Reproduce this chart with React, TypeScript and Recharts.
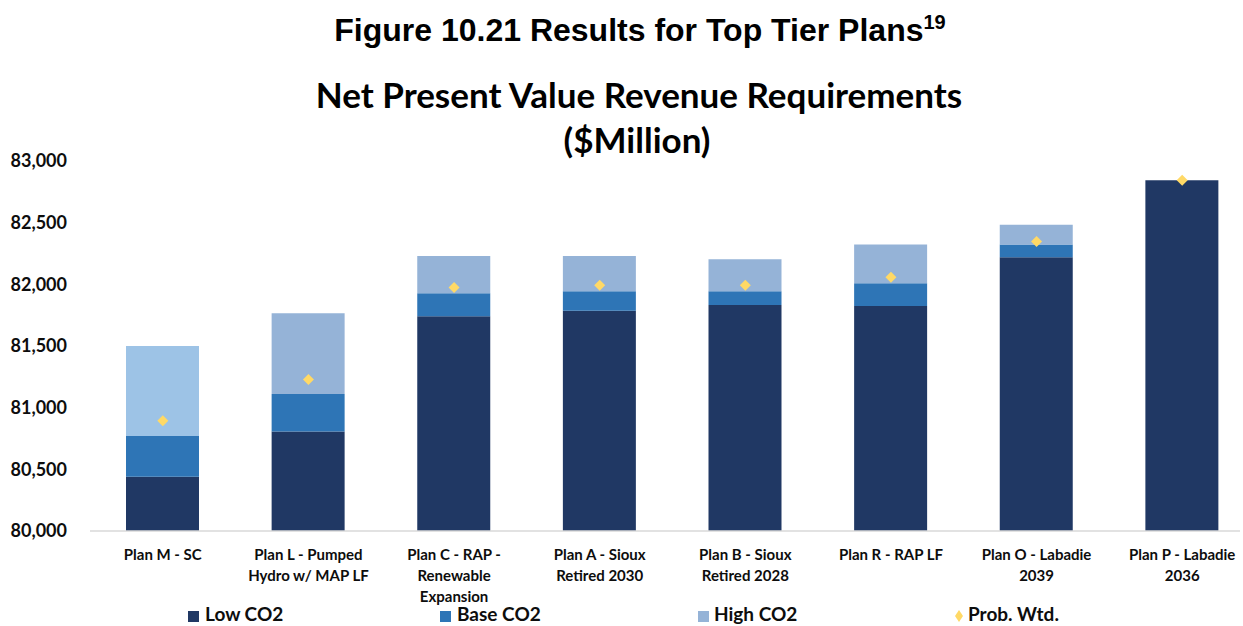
import React from 'react';
import { ComposedChart, Bar, Line, Cell, XAxis, YAxis } from 'recharts';

// plan names (\n = line break under the axis)
const PLANS = [
  'Plan M - SC',
  'Plan L - Pumped\nHydro w/ MAP LF',
  'Plan C - RAP -\nRenewable\nExpansion',
  'Plan A - Sioux\nRetired 2030',
  'Plan B - Sioux\nRetired 2028',
  'Plan R - RAP LF',
  'Plan O - Labadie\n2039',
  'Plan P - Labadie\n2036',
];

// NPVRR ($Million) per CO2 scenario
const LOW_CO2 = [80440, 80807, 81742, 81785, 81833, 81825, 82219, 82843];
const BASE_CO2 = [80770, 81110, 81928, 81944, 81944, 82009, 82322, 82843];
const HIGH_CO2 = [81500, 81766, 82230, 82230, 82203, 82322, 82484, 82843];
const PROB_WTD = [80893, 81229, 81974, 81993, 81993, 82057, 82347, 82843];

const Y_TICKS = [80000, 80500, 81000, 81500, 82000, 82500, 83000];

const LOW_COLOR = '#203864';
const BASE_COLOR = '#2E75B6';
const HIGH_COLORS = ['#9DC3E6', '#95B3D7', '#95B3D7', '#95B3D7', '#95B3D7', '#95B3D7', '#95B3D7', '#95B3D7'];
const DIAMOND_COLOR = '#FFD966';
const FONT = 'Lato, "Noto Sans", sans-serif';

// stacked segments are the steps between scenarios
const data = PLANS.map((plan, i) => ({
  plan,
  low: LOW_CO2[i],
  baseStep: BASE_CO2[i] - LOW_CO2[i],
  highStep: HIGH_CO2[i] - BASE_CO2[i],
  prob: PROB_WTD[i],
}));

const PlanTick = (props: any) => {
  const { x, y, payload } = props;
  const lines = String(payload.value).split('\n');
  return (
    <g>
      {lines.map((line, i) => (
        <text
          key={i}
          x={x}
          y={y + 29 + i * 21}
          textAnchor="middle"
          fontFamily={FONT}
          fontWeight={700}
          fontSize={15}
          fill="#0D0D0D"
        >
          {line}
        </text>
      ))}
    </g>
  );
};

const Diamond = (props: any) => {
  const { cx, cy, index } = props;
  if (cx == null || cy == null) return <g key={`d-${index}`} />;
  const r = 5.5;
  return (
    <polygon
      key={`d-${index}`}
      points={`${cx},${cy - r} ${cx + r},${cy} ${cx},${cy + r} ${cx - r},${cy}`}
      fill={DIAMOND_COLOR}
    />
  );
};

const App: React.FC = () => {
  return (
    <div style={{ position: 'absolute', left: 0, top: 0, width: 1243, height: 626, background: '#fff' }}>
      <ComposedChart
        width={1243}
        height={626}
        data={data}
        margin={{ top: 161, right: 3, bottom: 0, left: 0 }}
        barCategoryGap={0}
      >
        <XAxis
          dataKey="plan"
          height={95}
          interval={0}
          tickLine={false}
          tickSize={0}
          tickMargin={0}
          axisLine={{ stroke: '#D9D9D9', strokeWidth: 1.5 }}
          padding={{ left: 0, right: -15 }}
          tick={<PlanTick />}
        />
        <YAxis
          width={90}
          domain={[80000, 83000]}
          ticks={Y_TICKS}
          allowDataOverflow
          axisLine={false}
          tickLine={false}
          tickSize={0}
          tickMargin={23}
          tickFormatter={(v: number) => v.toLocaleString('en-US')}
          tick={{ fontFamily: FONT, fontWeight: 700, fontSize: 18, fill: '#0D0D0D' }}
        />
        <Bar dataKey="low" stackId="npv" fill={LOW_COLOR} barSize={73} isAnimationActive={false} />
        <Bar dataKey="baseStep" stackId="npv" fill={BASE_COLOR} barSize={73} isAnimationActive={false} />
        <Bar dataKey="highStep" stackId="npv" barSize={73} isAnimationActive={false}>
          {data.map((_, i) => (
            <Cell key={`h-${i}`} fill={HIGH_COLORS[i]} />
          ))}
        </Bar>
        <Line
          dataKey="prob"
          stroke="none"
          dot={Diamond}
          activeDot={false}
          isAnimationActive={false}
        />
      </ComposedChart>

      {/* titles and legend */}
      <svg
        width={1243}
        height={626}
        style={{ position: 'absolute', left: 0, top: 0, pointerEvents: 'none' }}
      >
        <text
          x={640}
          y={41}
          textAnchor="middle"
          fontFamily='"Liberation Sans", Arial, sans-serif'
          fontWeight={700}
          fontSize={32}
          fill="#000"
        >
          Figure 10.21 Results for Top Tier Plans
          <tspan fontSize={20} dy={-12}>19</tspan>
        </text>
        <text x={639} y={108} textAnchor="middle" fontFamily={FONT} fontWeight={700} fontSize={35} fill="#000">
          Net Present Value Revenue Requirements
        </text>
        <text x={637} y={153} textAnchor="middle" fontFamily={FONT} fontWeight={700} fontSize={35} fill="#000">
          ($Million)
        </text>

        <rect x={188} y={611} width={11} height={11} fill={LOW_COLOR} />
        <text x={205} y={621} fontFamily={FONT} fontWeight={700} fontSize={19} fill="#0D0D0D">Low CO2</text>
        <rect x={440} y={611} width={11} height={11} fill={BASE_COLOR} />
        <text x={457} y={621} fontFamily={FONT} fontWeight={700} fontSize={19} fill="#0D0D0D">Base CO2</text>
        <rect x={698} y={611} width={11} height={11} fill="#95B3D7" />
        <text x={714} y={621} fontFamily={FONT} fontWeight={700} fontSize={19} fill="#0D0D0D">High CO2</text>
        <polygon points="959,610 963,616 959,622 955,616" fill={DIAMOND_COLOR} />
        <text x={968} y={621} fontFamily={FONT} fontWeight={700} fontSize={19} fill="#0D0D0D">Prob. Wtd.</text>
      </svg>
    </div>
  );
};

export default App;
